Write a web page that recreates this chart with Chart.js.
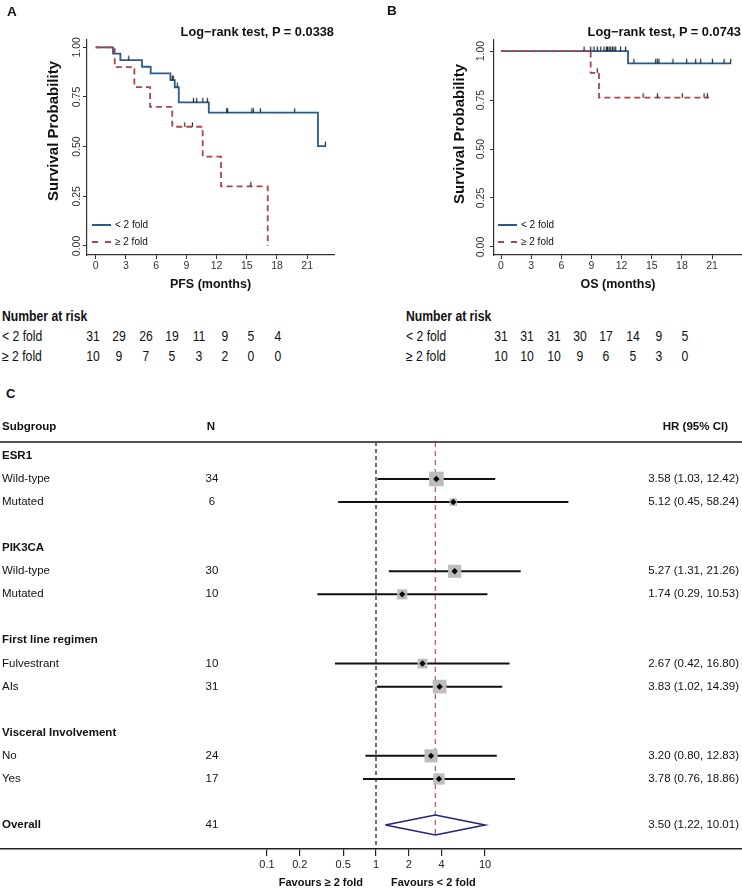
<!DOCTYPE html>
<html>
<head>
<meta charset="utf-8">
<script src="https://cdn.jsdelivr.net/npm/chart.js@4.4.0/dist/chart.umd.min.js"></script>
<style>
  html, body { margin:0; padding:0; background:#fff; }
  body { position:relative; width:742px; height:888px; overflow:hidden;
         font-family:'Liberation Sans', Arial, Helvetica, sans-serif; color:#111; }
  canvas { position:absolute; display:block; }
  .t { position:absolute; white-space:nowrap; line-height:1; }
  .hline { position:absolute; left:0; width:742px; height:0; border-top:2px solid #555; }
  .leg { position:absolute; height:0; width:19px; }
</style>
</head>
<body>
<canvas id="cA" width="370" height="300" style="left:0;top:0"></canvas>
<canvas id="cB" width="372" height="300" style="left:370px;top:0"></canvas>
<canvas id="cC" width="742" height="468" style="left:0;top:420px"></canvas>
<script>
// ---------------- DATA ----------------
const timeTicks = [0, 3, 6, 9, 12, 15, 18, 21];
const survTicks = [0, 0.25, 0.5, 0.75, 1];
const groupNames = ['< 2 fold', '\u2265 2 fold'];
const survTitle = 'Survival Probability';

// Panel A: PFS
const pfsLowTime = [0, 1.72, 2.45, 4.6, 5.46, 7.42, 7.85, 8.25, 11.23, 22.07, 22.85];
const pfsLowSurv = [1, 0.968, 0.935, 0.902, 0.869, 0.835, 0.799, 0.723, 0.671, 0.503, 0.503];
const pfsLowCensor = [3.28, 7.6, 7.7, 8.1, 9.7, 10.03, 10.63, 11.08, 13.0, 13.1, 15.5, 15.65, 16.35, 19.76, 22.8];
const pfsHighTime = [0, 1.89, 3.84, 5.4, 7.6, 10.62, 12.44, 17.08];
const pfsHighSurv = [1, 0.9, 0.8, 0.7, 0.6, 0.45, 0.3, 0];
const pfsHighCensor = [8.84, 9.6, 15.4];
const pfsRiskLow = [31, 29, 26, 19, 11, 9, 5, 4];
const pfsRiskHigh = [10, 9, 7, 5, 3, 2, 0, 0];
const pfsTitle = 'Log\u2212rank test, P = 0.0338';

// Panel B: OS
const osLowTime = [0, 12.64, 22.9];
const osLowSurv = [1, 0.9375, 0.9375];
const osLowCensor = [8.26, 8.92, 9.25, 9.58, 9.92, 10.25, 10.5, 10.6, 10.75, 10.91, 11.08, 11.24, 11.41, 11.9, 12.4,
                     13.23, 15.39, 15.55, 15.72, 17.11, 18.47, 19.37, 19.87, 21.03, 22.19, 22.85];
const osHighTime = [0, 8.92, 9.75, 20.7];
const osHighSurv = [1, 0.889, 0.762, 0.762];
const osHighCensor = [9.58, 14.13, 15.56, 18.04, 20.2, 20.53];
const osRiskLow = [31, 31, 31, 30, 17, 14, 9, 5];
const osRiskHigh = [10, 10, 10, 9, 6, 5, 3, 0];
const osTitle = 'Log\u2212rank test, P = 0.0743';

// Panel C: forest plot
const forestLabel = ['ESR1', 'Wild-type', 'Mutated', 'PIK3CA', 'Wild-type', 'Mutated',
                     'First line regimen', 'Fulvestrant', 'AIs', 'Visceral Involvement', 'No', 'Yes', 'Overall'];
const forestN  = [null, 34, 6, null, 30, 10, null, 10, 31, null, 24, 17, 41];
const forestHR = [null, 3.58, 5.12, null, 5.27, 1.74, null, 2.67, 3.83, null, 3.20, 3.78, 3.50];
const forestLo = [null, 1.03, 0.45, null, 1.31, 0.29, null, 0.42, 1.02, null, 0.80, 0.76, 1.22];
const forestHi = [null, 12.42, 58.24, null, 21.26, 10.53, null, 16.80, 14.39, null, 12.83, 18.86, 10.01];
const forestTicks = [0.1, 0.2, 0.5, 1, 2, 4, 10];

// ---------------- STYLE / HELPERS ----------------
const FONT = "'Liberation Sans', Arial, Helvetica, sans-serif";
const BLUE = '#2a5b8c';
const RED = '#b0434b';
const NAVY = '#23237a';

function addText(str, x, y, o = {}) {
  const d = document.createElement('div');
  d.className = 't';
  d.textContent = str;
  d.style.left = x + 'px';
  d.style.top = y + 'px';
  d.style.fontSize = (o.size || 11.5) + 'px';
  if (o.bold) d.style.fontWeight = 'bold';
  if (o.color) d.style.color = o.color;
  const tx = o.align === 'right' ? '-100%' : o.align === 'center' ? '-50%' : '0';
  const sx = o.scaleX ? ' scaleX(' + o.scaleX + ')' : '';
  const rot = o.rotate ? ' rotate(' + o.rotate + 'deg)' : '';
  d.style.transform = 'translate(' + tx + ',-50%)' + sx + rot;
  d.style.transformOrigin = o.align === 'right' ? 'right center' : o.align === 'center' ? 'center center' : 'left center';
  document.body.appendChild(d);
  return d;
}
function addLegendLine(x, y, color, dashed) {
  const d = document.createElement('div');
  d.className = 'leg';
  d.style.left = x + 'px';
  d.style.top = (y - 1) + 'px';
  d.style.borderTop = '2px ' + (dashed ? 'dashed ' : 'solid ') + color;
  document.body.appendChild(d);
}
function stepAt(times, surv, t) {
  let s = surv[0];
  for (let i = 0; i < times.length; i++) if (times[i] <= t) s = surv[i];
  return s;
}
function makeTick(color) {
  const c = document.createElement('canvas');
  c.width = 3; c.height = 12;
  const g = c.getContext('2d');
  g.strokeStyle = color; g.lineWidth = 1.2;
  g.beginPath(); g.moveTo(1.5, 1.5); g.lineTo(1.5, 6); g.stroke();
  return c;
}
const tickImg = makeTick('#222');
const noPad = s => { s.paddingLeft = 0; s.paddingRight = 0; s.paddingTop = 0; s.paddingBottom = 0; };

function kmChart(id, o) {
  const curve = (T, S) => T.map((t, i) => ({ x: t, y: S[i] }));
  const cens = (C, T, S) => C.map(t => ({ x: t, y: stepAt(T, S, t) }));
  return new Chart(document.getElementById(id), {
    type: 'scatter',
    data: { datasets: [
      { data: cens(o.lowC, o.lowT, o.lowS), pointStyle: tickImg, pointRadius: 4, showLine: false, order: 0 },
      { data: cens(o.highC, o.highT, o.highS), pointStyle: tickImg, pointRadius: 4, showLine: false, order: 0 },
      { data: curve(o.highT, o.highS), showLine: true, stepped: true, borderColor: RED, borderWidth: 1.8,
        borderDash: [6, 4], pointRadius: 0, fill: false, order: 1 },
      { data: curve(o.lowT, o.lowS), showLine: true, stepped: true, borderColor: BLUE, borderWidth: 1.8,
        pointRadius: 0, fill: false, order: 2 }
    ]},
    options: {
      responsive: false, animation: false, events: [],
      layout: { autoPadding: false, padding: { top: 40, right: o.padRight, left: 0, bottom: 0 } },
      plugins: { legend: { display: false }, tooltip: { enabled: false } },
      scales: {
        x: {
          type: 'linear', min: o.xMin, max: o.xMax,
          afterBuildTicks: s => { s.ticks = timeTicks.map(v => ({ value: v })); },
          afterFit: s => { s.height = 45; noPad(s); },
          ticks: { font: { family: FONT, size: 10.5 }, color: '#333', padding: 1, maxRotation: 0, autoSkip: false,
                   callback: v => String(v) },
          grid: { display: true, drawOnChartArea: false, drawTicks: true, tickLength: 4, color: '#333', lineWidth: 1 },
          border: { display: true, color: '#333', width: 1.2 },
          title: { display: true, text: o.xTitle, color: '#111',
                   font: { family: FONT, size: 12.5, weight: 'bold' }, padding: { top: 0, bottom: 7.5 } }
        },
        y: {
          type: 'linear', min: o.yMin, max: o.yMax,
          afterBuildTicks: s => { s.ticks = survTicks.map(v => ({ value: v })); },
          afterFit: s => { s.width = o.yWidth; noPad(s); },
          ticks: { font: { family: FONT, size: 10.5 }, color: '#333', minRotation: 90, maxRotation: 90,
                   crossAlign: 'center', padding: o.yTickPad, callback: v => v.toFixed(2) },
          grid: { display: true, drawOnChartArea: false, drawTicks: true, tickLength: 4, color: '#333', lineWidth: 1 },
          border: { display: true, color: '#333', width: 1.2 },
          title: { display: false }
        }
      }
    }
  });
}

// ---------------- PANEL A ----------------
kmChart('cA', {
  lowT: pfsLowTime, lowS: pfsLowSurv, lowC: pfsLowCensor,
  highT: pfsHighTime, highS: pfsHighSurv, highC: pfsHighCensor,
  xMin: -0.864, xMax: 23.66, yMin: -0.0453, yMax: 1.0367,
  padRight: 36, yWidth: 87, yTickPad: -4, xTitle: 'PFS (months)'
});
// ---------------- PANEL B ----------------
kmChart('cB', {
  lowT: osLowTime, lowS: osLowSurv, lowC: osLowCensor,
  highT: osHighTime, highS: osHighSurv, highC: osHighCensor,
  xMin: -0.697, xMax: 23.98, yMin: -0.041, yMax: 1.0564,
  padRight: 0, yWidth: 124, yTickPad: -1, xTitle: 'OS (months)'
});

// titles, axis titles, panel letters, legends
addText('A', 7, 12, { size: 13.5, bold: true });
addText('B', 387, 11, { size: 13.5, bold: true });
addText(pfsTitle, 334, 32, { size: 12.8, bold: true, align: 'right' });
addText(osTitle, 741, 32, { size: 12.8, bold: true, align: 'right' });
addText(survTitle, 52, 131, { size: 15, bold: true, align: 'center', rotate: -90 });
addText(survTitle, 458, 134, { size: 15, bold: true, align: 'center', rotate: -90 });
[[92, 115], [498, 521]].forEach(([lx, tx]) => {
  addLegendLine(lx, 225, BLUE, false);
  addLegendLine(lx, 242, RED, true);
  addText(groupNames[0], tx, 225, { size: 10 });
  addText(groupNames[1], tx, 242, { size: 10 });
});

// risk tables
function riskTable(x0, colX, colStep, low, high) {
  addText('Number at risk', x0, 316, { size: 14, bold: true, scaleX: 0.87 });
  addText(groupNames[0], x0, 336, { size: 14, scaleX: 0.87 });
  addText(groupNames[1], x0, 356, { size: 14, scaleX: 0.87 });
  low.forEach((v, i) => addText(String(v), colX + i * colStep, 336, { size: 14, align: 'center', scaleX: 0.87 }));
  high.forEach((v, i) => addText(String(v), colX + i * colStep, 356, { size: 14, align: 'center', scaleX: 0.87 }));
}
riskTable(2, 93, 26.4, pfsRiskLow, pfsRiskHigh);
riskTable(406, 501, 26.3, osRiskLow, osRiskHigh);

// ---------------- PANEL C (forest) ----------------
const rows = [];
{
  let r = 0;
  forestLabel.forEach((lab, i) => {
    const header = forestN[i] === null;
    if ((header && i > 0) || lab === 'Overall') r += 1;
    rows.push(r); r += 1;
  });
}
const overallIdx = forestLabel.indexOf('Overall');
const rowPx = 23.07;                     // pixel height per row
const yMinC = 1 - 37 / rowPx, yMaxC = 1 + 370 / rowPx;
const pxPerDecade = 109, onePx = 376;
const xMinC = Math.pow(10, (0 - onePx) / pxPerDecade), xMaxC = Math.pow(10, (742 - onePx) / pxPerDecade);
const dHalf = 10 / rowPx;

const ciData = [], boxData = [], boxR = [], dotData = [];
forestHR.forEach((hr, i) => {
  if (hr === null || i === overallIdx) return;
  ciData.push({ x: forestLo[i], y: rows[i] }, { x: forestHi[i], y: rows[i] }, { x: forestHi[i], y: NaN });
  const se = Math.log(forestHi[i] / forestLo[i]) / 3.92;
  const side = 9.3 * Math.sqrt(1 / (se * se));
  boxData.push({ x: hr, y: rows[i] }); boxR.push(side / Math.SQRT2);
  dotData.push({ x: hr, y: rows[i] });
});
const ro = rows[overallIdx];
const oHR = forestHR[overallIdx], oLo = forestLo[overallIdx], oHi = forestHi[overallIdx];

const chartC = new Chart(document.getElementById('cC'), {
  type: 'scatter',
  data: { datasets: [
    { data: dotData, pointStyle: 'rectRot', pointRadius: 3.2, backgroundColor: '#000', borderWidth: 0, order: 0 },
    { data: boxData, pointStyle: 'rect', pointRadius: boxR, backgroundColor: '#bdbdbd', borderWidth: 0, order: 1 },
    { data: [{ x: oLo, y: ro }, { x: oHR, y: ro - dHalf }, { x: oHi, y: ro }, { x: oHR, y: ro + dHalf }, { x: oLo, y: ro }],
      showLine: true, borderColor: NAVY, borderWidth: 1.6, pointRadius: 0, fill: false, order: 2 },
    { data: ciData, showLine: true, spanGaps: false, borderColor: '#111', borderWidth: 2, pointRadius: 0, order: 3 },
    { data: [{ x: oHR, y: yMinC }, { x: oHR, y: ro + dHalf }], showLine: true, borderColor: '#b5555a',
      borderWidth: 1.2, borderDash: [5, 4], pointRadius: 0, order: 4 },
    { data: [{ x: 1, y: yMinC }, { x: 1, y: yMaxC }], showLine: true, borderColor: '#111',
      borderWidth: 1.2, borderDash: [4, 3], pointRadius: 0, order: 5 }
  ]},
  options: {
    responsive: false, animation: false, events: [],
    layout: { autoPadding: false, padding: { top: 22, right: 0, left: 0, bottom: 0 } },
    plugins: { legend: { display: false }, tooltip: { enabled: false } },
    scales: {
      x: {
        type: 'logarithmic', min: xMinC, max: xMaxC,
        afterBuildTicks: s => { s.ticks = forestTicks.map(v => ({ value: v })); },
        afterFit: s => { s.height = 39; noPad(s); },
        ticks: { font: { family: FONT, size: 11 }, color: '#222', padding: 2, maxRotation: 0, autoSkip: false,
                 callback: v => String(v) },
        grid: { display: true, drawOnChartArea: false, drawTicks: true, tickLength: 7, color: '#222', lineWidth: 1.2 },
        border: { display: true, color: '#222', width: 1.5 }
      },
      y: { type: 'linear', display: false, min: yMinC, max: yMaxC, reverse: true }
    }
  }
});

// forest text columns
const ys = v => 420 + chartC.scales.y.getPixelForValue(v);
const xs = v => chartC.scales.x.getPixelForValue(v);
addText('C', 6, 393, { size: 13, bold: true });
const hdr = ys(-1.24);
addText('Subgroup', 2, hdr, { bold: true });
addText('N', 211, hdr, { bold: true, align: 'center' });
addText('HR (95% CI)', 728, hdr, { bold: true, align: 'right' });
const hl = document.createElement('div'); hl.className = 'hline'; hl.style.top = (420 + chartC.chartArea.top - 1) + 'px';
document.body.appendChild(hl);
forestLabel.forEach((lab, i) => {
  const y = ys(rows[i]);
  const header = forestN[i] === null;
  addText(lab, 2, y, { bold: header || i === overallIdx });
  if (!header) {
    addText(String(forestN[i]), 212, y, { align: 'center' });
    addText(forestHR[i].toFixed(2) + ' (' + forestLo[i].toFixed(2) + ', ' + forestHi[i].toFixed(2) + ')', 739, y, { align: 'right' });
  }
});
addText('Favours \u2265 2 fold', xs(1) - 13, 882, { size: 11, bold: true, align: 'right' });
addText('Favours < 2 fold', xs(1) + 15, 882, { size: 11, bold: true });
</script>
</body>
</html>
